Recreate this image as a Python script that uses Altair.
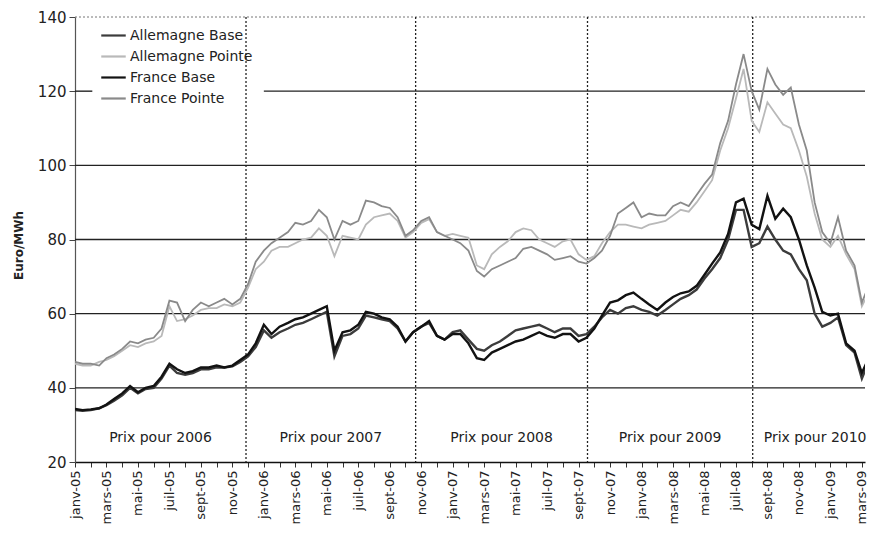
import json
import altair as alt
import pandas as pd

# ---------------- data ----------------
dates = [f"{y}-{m:02d}-{d:02d}" for y in range(2005, 2010) for m in range(1, 13) for d in (1, 16)]
dates = [s for s in dates if s <= "2009-04-01"]

france_pointe = [
    47, 46.5, 46.5, 46, 48, 49, 50.5, 52.5, 52, 53, 53.5, 56, 63.5, 63, 58, 61, 63, 62, 63, 64, 62.5, 64, 68, 74, 77, 79, 80.5,
    82, 84.5, 84, 85, 88, 86, 80, 85, 84, 85, 90.5, 90, 89, 88.5, 86, 81, 82.5, 85, 86, 82, 81,
    80, 79, 77, 71.5, 70, 72, 73, 74, 75, 77.5, 78, 77, 76, 74.5, 75, 75.5, 74, 73.5, 75, 77, 81,
    87, 88.5, 90, 86, 87, 86.5, 86.5, 89, 90, 89, 92, 95, 97.5, 106, 112, 121.8, 130, 120, 115, 126, 121.8, 119, 121,
    111, 104, 90, 82, 79, 86, 77, 73, 63, 68, 74,
]
allemagne_pointe = [
    46.5, 46, 46, 47, 47.5, 48.5, 50, 51.5, 51, 52, 52.5, 54, 62, 58, 58.5, 59.5, 61, 61.5, 61.5, 62.5, 62, 63, 67, 72, 74, 77, 78,
    78, 79, 80, 80.5, 83, 81, 75.5, 81, 80.5, 80, 84, 86, 86.5, 87, 85, 80.5, 82, 84.5, 85.5, 82, 81,
    81.5, 81, 80.5, 73, 72, 76, 78, 79.5, 82, 83, 82.5, 80, 79, 78, 79.5, 80, 76, 74.5, 75.5, 79, 82,
    84, 84, 83.5, 83, 84, 84.5, 85, 86.5, 88, 87.5, 90, 93, 96, 104, 110, 118, 126, 112, 109, 117, 114, 111, 110,
    104, 97, 87, 80, 78, 81, 76, 72, 62, 66, 72,
]
france_base = [
    34.3, 34, 34.2, 34.5, 35.5, 37, 38.5, 40.5, 38.8, 40, 40.5, 43, 46.5, 45, 44, 44.5, 45.5, 45.5, 46, 45.5, 46, 47.5, 49, 52, 57, 54.5,
    56.5, 57.5, 58.5, 59, 60, 61, 62, 50, 55, 55.5, 57, 60.5, 60, 59, 58.5, 56.5, 52.5, 55, 56.5, 58, 54, 53,
    54.5, 54.5, 52, 48, 47.5, 49.5, 50.5, 51.5, 52.5, 53, 54, 55, 54, 53.5, 54.5, 54.5, 52.5, 53.5, 56, 59.5,
    63, 63.6, 65, 65.7, 64, 62.5, 61, 63, 64.5, 65.5, 66, 67.5, 70.5, 73.5, 76.5, 81.5, 90, 91, 84, 82.8,
    91.8, 85.6, 88.3, 86, 80, 73, 67, 60.5, 59.5, 60, 52, 50, 44, 48.5, 53,
]
allemagne_base = [
    34, 33.8, 34, 34.5, 35.3, 36.5, 38, 40, 38.5, 39.7, 40, 42.5, 46, 44, 43.5, 44, 45, 45, 45.5, 45.5, 45.8, 47, 48.5, 51, 55.5, 53.5,
    55, 56, 57, 57.5, 58.5, 59.5, 60.5, 48.5, 54, 54.5, 56, 59.5, 59, 58.5, 58, 56, 52.5, 55, 56.5, 57.5, 54, 53,
    55, 55.5, 53, 50.5, 50, 51.5, 52.5, 54, 55.5, 56, 56.5, 57, 56, 55, 56, 56, 54, 54.5, 56.5, 59,
    61, 60, 61.5, 62, 61, 60.5, 59.5, 61, 62.5, 64, 65, 66.5, 69.5, 72, 75, 80, 88, 88, 78, 79,
    83.5, 80, 77, 76, 72, 69, 60, 56.5, 57.5, 59, 51.5, 49.5, 42.5, 47.5, 52,
]

series_names = ["Allemagne Base", "Allemagne Pointe", "France Base", "France Pointe"]
series_colors = ["#3c3c3c", "#b9b9b9", "#121212", "#8a8a8a"]

tick_labels = [
    "janv-05", "mars-05", "mai-05", "juil-05", "sept-05", "nov-05",
    "janv-06", "mars-06", "mai-06", "juil-06", "sept-06", "nov-06",
    "janv-07", "mars-07", "mai-07", "juil-07", "sept-07", "nov-07",
    "janv-08", "mars-08", "mai-08", "juil-08", "sept-08", "nov-08",
    "janv-09", "mars-09",
]
y_ticks = [20, 40, 60, 80, 100, 120, 140]
grid_values = [40, 60, 80, 100]
# the 120 line is hidden behind the legend box between these two months
legend_grid_value = 120
legend_gap = [1.1, 12.0]
top_value = [140]

contract_dividers = ["2005-11-27", "2006-10-21", "2007-09-18", "2008-08-03"]
contract_labels = ["Prix pour 2006", "Prix pour 2007", "Prix pour 2008", "Prix pour 2009", "Prix pour 2010"]
label_level = 26.5
x_domain = [0, 50.2]


def month_index(s):
    t = pd.Timestamp(s)
    return (t.year - 2005) * 12 + (t.month - 1) + (t.day - 1) / t.days_in_month


# ---------------- tables ----------------
months = [month_index(d) for d in dates]
rows = []
for name, vals in [("Allemagne Pointe", allemagne_pointe), ("France Pointe", france_pointe)]:
    rows += [{"m": m, "v": v, "serie": name} for m, v in zip(months, vals)]
df_pointe = pd.DataFrame(rows)
rows = []
for name, vals in [("Allemagne Base", allemagne_base), ("France Base", france_base)]:
    rows += [{"m": m, "v": v, "serie": name} for m, v in zip(months, vals)]
df_base = pd.DataFrame(rows)

div_m = [month_index(d) for d in contract_dividers]
bounds = [months[0]] + div_m + [months[-1]]
df_div = pd.DataFrame({"m": div_m})
df_text = pd.DataFrame({
    "m": [(a + b) / 2 for a, b in zip(bounds[:-1], bounds[1:])],
    "label": contract_labels,
})
df_grid = pd.DataFrame({"v": grid_values})
df_grid120 = pd.DataFrame({
    "m": [x_domain[0], legend_gap[1]],
    "m2": [legend_gap[0], x_domain[1]],
    "v": [legend_grid_value, legend_grid_value],
})
df_top = pd.DataFrame({"v": top_value})

FONT = "DejaVu Sans"
xscale = alt.Scale(domain=x_domain, nice=False, zero=False)
yscale = alt.Scale(domain=[20, 140], nice=False, zero=False)
cscale = alt.Scale(domain=series_names, range=series_colors)

label_expr = f"datum.value % 2 == 0 ? {json.dumps(tick_labels)}[datum.value / 2] : ''"

x_axis = alt.Axis(
    values=list(range(0, 51)), labelExpr=label_expr, labelAngle=270, labelAlign="right",
    labelBaseline="middle", labelFontSize=13, labelFont=FONT, labelColor="#222",
    labelPadding=3, labelOverlap=False, labelFlush=False, labelBound=False, tickSize=5,
    tickColor="#333", domainColor="#111", domainWidth=1.6, grid=False, title=None,
)
y_axis = alt.Axis(
    values=y_ticks, labelFontSize=15, labelFont=FONT, labelColor="#222", labelPadding=3,
    tickSize=6, tickColor="#444", domainColor="#555", domainWidth=1.2, grid=False,
    title="Euro/MWh", titleFont=FONT, titleFontSize=12, titleFontWeight="bold",
    titleColor="#222", titleAngle=270, titleX=-57, titleY=228, titleBaseline="middle",
    titleAlign="center",
)

legend = alt.Legend(
    orient="none", legendX=22, legendY=2, title=None, padding=3,
    symbolType="stroke", symbolSize=600, symbolStrokeWidth=2.2, labelFontSize=14,
    labelFont=FONT, labelColor="#222", rowPadding=0, labelOffset=3,
)

X = alt.X("m:Q", scale=xscale, axis=x_axis)
Y = alt.Y("v:Q", scale=yscale, axis=y_axis)

grid = alt.Chart(df_grid).mark_rule(color="#222", strokeWidth=1.4).encode(y=Y)
grid120 = alt.Chart(df_grid120).mark_rule(color="#222", strokeWidth=1.4).encode(
    x=X, x2="m2:Q", y=Y
)
top = alt.Chart(df_top).mark_rule(color="#777", strokeWidth=1, strokeDash=[2, 2]).encode(y=Y)
dividers = alt.Chart(df_div).mark_rule(color="#222", strokeWidth=1.3, strokeDash=[2, 2]).encode(x=X)

pointe = alt.Chart(df_pointe).mark_line(strokeWidth=1.8, clip=True).encode(
    x=X, y=Y, color=alt.Color("serie:N", scale=cscale, legend=legend),
)
base = alt.Chart(df_base).mark_line(strokeWidth=2.4, clip=True).encode(
    x=X, y=Y, color=alt.Color("serie:N", scale=cscale, legend=legend),
)
text = alt.Chart(df_text).mark_text(font=FONT, fontSize=14, color="#222", baseline="middle").encode(
    x=X, y=alt.datum(label_level), text="label:N",
)

chart = alt.layer(grid, grid120, top, dividers, pointe, base, text).properties(
    width=790, height=445,
    autosize=alt.AutoSizeParams(type="none"),
    padding={"left": 67, "top": 9, "right": 8, "bottom": 66},
    background="white",
).configure_view(stroke=None)

chart.save("out.html", embed_options={"renderer": "svg", "actions": False})
